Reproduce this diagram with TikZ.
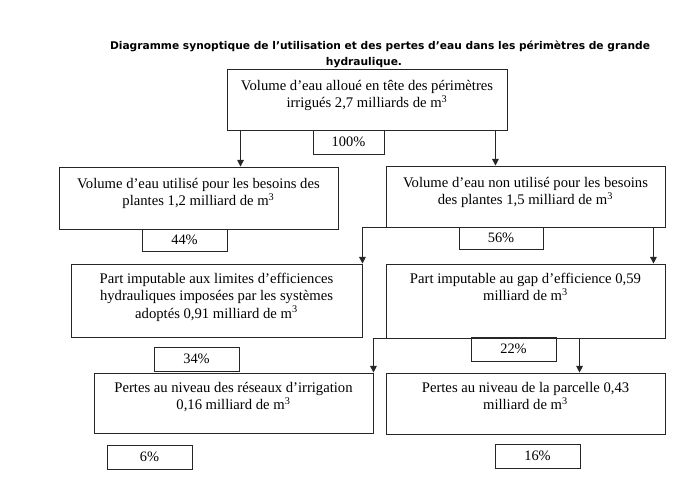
\documentclass[tikz,border=0pt]{standalone}
\usepackage{fontspec}
\setmainfont{Liberation Serif}
\newfontfamily\titlefont{DejaVu Sans}
\usetikzlibrary{arrows.meta}

\begin{document}
\begin{tikzpicture}[x=0.75pt, y=-0.75pt,
  box/.style={draw=black!85, line width=0.7pt, inner sep=0pt},
  pct/.style={draw=black!85, line width=0.7pt, minimum width=63.75pt, minimum height=18pt, inner sep=0pt, font=\fontsize{10.8}{12}\selectfont},
  txt/.style={align=center, inner sep=0pt, anchor=north, font=\fontsize{11}{13}\selectfont},
  ttl/.style={font=\titlefont\bfseries\fontsize{8}{10}\selectfont, inner sep=0pt},
  arr/.style={draw=black!85, line width=0.7pt, -{Triangle[length=5pt,width=5pt]}}]
\useasboundingbox (0,0) rectangle (693,487);

\node[ttl] (title) at (380,46) {Diagramme synoptique de l’utilisation et des pertes d’eau dans les périmètres de grande};
\node[ttl] (title2) at (364,63) {hydraulique.};

\node[box, minimum width=210pt, minimum height=45.75pt] (alloc) at (367,99.5) {};
\node[txt] (allocT) at ([yshift=-8.5pt]alloc.north) {Volume d’eau alloué en tête des périmètres\\irrigués 2,7 milliards de m\textsuperscript{3}};
\node[pct, minimum width=53.25pt] (p100) at (348.5,142) {100\%};

\node[box, minimum width=209.25pt, minimum height=46.5pt] (used) at (198.5,198) {};
\node[txt] (usedT) at ([yshift=-8.5pt]used.north) {Volume d’eau utilisé pour les besoins des\\plantes 1,2 milliard de m\textsuperscript{3}};
\node[pct, minimum height=16.5pt] (p44) at (184.5,240) {44\%};

\node[box, minimum width=209.25pt, minimum height=45.75pt] (unused) at (525.5,196.5) {};
\node[txt] (unusedT) at ([yshift=-8.5pt]unused.north) {Volume d’eau non utilisé pour les besoins\\des plantes 1,5 milliard de m\textsuperscript{3}};
\node[pct, minimum width=63pt, minimum height=16.5pt] (p56) at (501,238) {56\%};

\node[box, minimum width=218.25pt, minimum height=54.75pt] (limits) at (216.5,300.5) {};
\node[txt] (limitsT) at ([yshift=-7pt]limits.north) {Part imputable aux limites d’efficiences\\hydrauliques imposées par les systèmes\\adoptés 0,91 milliard de m\textsuperscript{3}};
\node[pct] (p34) at (196.5,359) {34\%};

\node[box, minimum width=209.25pt, minimum height=55.5pt] (gap) at (525.5,301) {};
\node[txt] (gapT) at ([yshift=-7pt]gap.north) {Part imputable au gap d’efficience 0,59\\milliard de m\textsuperscript{3}};
\node[pct] (p22) at (513.5,349) {22\%};

\node[box, minimum width=209.25pt, minimum height=45pt] (network) at (233.5,403) {};
\node[txt] (networkT) at ([yshift=-7pt]network.north) {Pertes au niveau des réseaux d’irrigation\\0,16 milliard de m\textsuperscript{3}};
\node[pct] (p6) at (149.5,457) {6\%};

\node[box, minimum width=209.25pt, minimum height=45.75pt] (plot) at (525.5,403.5) {};
\node[txt] (plotT) at ([yshift=-7pt]plot.north) {Pertes au niveau de la parcelle 0,43\\milliard de m\textsuperscript{3}};
\node[pct] (p16) at (537.5,456) {16\%};

\draw[arr] ([xshift=10.5pt]alloc.south west) -- ([xshift=10.5pt]alloc.south west |- used.north);
\draw[arr] ([xshift=-9pt]alloc.south east) -- ([xshift=-9pt]alloc.south east |- unused.north);
\draw[arr] (unused.south west) -| (limits.north east);
\draw[arr] ([xshift=-9pt]unused.south east) -- ([xshift=-9pt]unused.south east |- gap.north);
\draw[arr] (gap.south west) -| (network.north east);
\draw[arr] ([xshift=145.5pt]gap.south west) -- ([xshift=145.5pt]gap.south west |- plot.north);
\end{tikzpicture}
\end{document}
